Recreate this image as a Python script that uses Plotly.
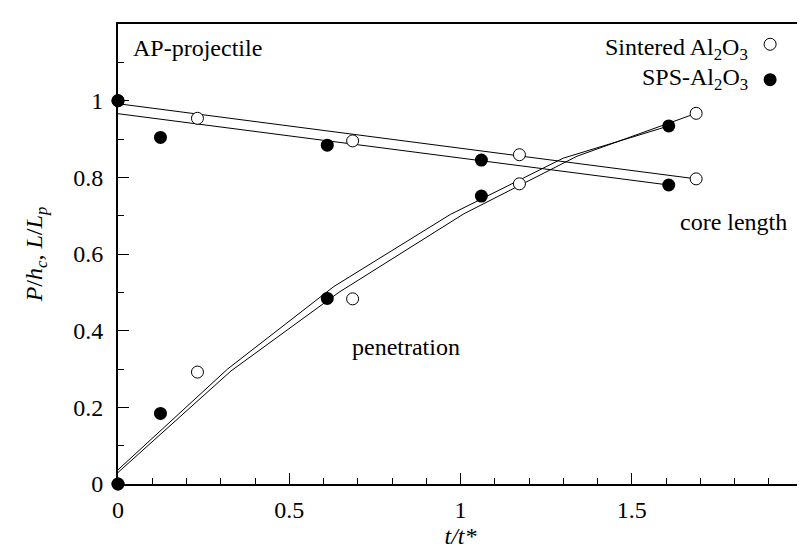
import plotly.graph_objects as go

# ---- data ----
sint_t = [0.0, 0.232, 0.685, 1.172, 1.688]
sint_core = [1.0, 0.954, 0.895, 0.859, 0.796]
sint_pen = [0.0, 0.292, 0.483, 0.783, 0.967]

sps_t = [0.0, 0.124, 0.611, 1.061, 1.608]
sps_core = [1.0, 0.904, 0.884, 0.845, 0.780]
sps_pen = [0.0, 0.184, 0.484, 0.751, 0.934]

# fitted core-length lines
core_fit_sint_t = [0.0, 1.688]
core_fit_sint_y = [0.992, 0.796]
core_fit_sps_t = [0.0, 1.608]
core_fit_sps_y = [0.966, 0.780]

# fitted penetration curves
pen_fit_sps_t = [0.0, 0.32, 0.63, 0.97, 1.30, 1.608]
pen_fit_sps_y = [0.037, 0.300, 0.515, 0.703, 0.850, 0.934]
pen_fit_sint_t = [0.0, 0.33, 0.645, 1.01, 1.34, 1.688]
pen_fit_sint_y = [0.030, 0.295, 0.500, 0.705, 0.855, 0.967]

x_tickvals = [0, 0.5, 1, 1.5, 2]
x_ticktext = ["0", "0.5", "1", "1.5", "2"]
y_tickvals = [0, 0.2, 0.4, 0.6, 0.8, 1.0]
y_ticktext = ["0", "0.2", "0.4", "0.6", "0.8", "1"]

FONT = "Liberation Serif"

fig = go.Figure()
line_style = dict(color="black", width=1)
for tx, ty in [(core_fit_sint_t, core_fit_sint_y), (core_fit_sps_t, core_fit_sps_y),
               (pen_fit_sps_t, pen_fit_sps_y), (pen_fit_sint_t, pen_fit_sint_y)]:
    fig.add_trace(go.Scatter(x=tx, y=ty, mode="lines", line=line_style,
                             showlegend=False, hoverinfo="skip"))

fig.add_trace(go.Scatter(x=sint_t + sint_t, y=sint_core + sint_pen, mode="markers",
                         marker=dict(symbol="circle", size=12, color="white",
                                     line=dict(color="black", width=1)),
                         cliponaxis=False, name="Sintered Al2O3", showlegend=False))
fig.add_trace(go.Scatter(x=sps_t + sps_t, y=sps_core + sps_pen, mode="markers",
                         marker=dict(symbol="circle", size=13, color="black",
                                     line=dict(color="black", width=0)),
                         cliponaxis=False, name="SPS-Al2O3", showlegend=False))

axis_common = dict(showline=True, linecolor="black", linewidth=2, mirror=True,
                   ticks="inside", ticklen=11, tickwidth=1, tickcolor="black",
                   showgrid=False, zeroline=False, layer="below traces",
                   tickfont=dict(family=FONT, size=24, color="black"))

fig.update_xaxes(range=[0, 2], tickvals=x_tickvals, ticktext=x_ticktext,
                 minor=dict(dtick=0.1, tick0=0, ticks="inside", ticklen=6, tickcolor="black", tickwidth=1),
                 ticklabelstandoff=3,
                 title=dict(text="<i>t/t*</i>", font=dict(family=FONT, size=24, color="black"), standoff=0),
                 **axis_common)
fig.update_yaxes(range=[0, 1.2], tickvals=y_tickvals, ticktext=y_ticktext,
                 minor=dict(dtick=0.1, tick0=0, ticks="inside", ticklen=6, tickcolor="black", tickwidth=1),
                 ticklabelstandoff=8,
                 title=dict(text="<i>P</i>/<i>h<sub>c</sub></i>, <i>L</i>/<i>L<sub>p</sub></i>",
                            font=dict(family=FONT, size=24, color="black"), standoff=24),
                 **axis_common)

ann_font = dict(family=FONT, size=24, color="black")
fig.add_annotation(text="AP-projectile", xref="paper", yref="paper", x=0.0188, y=0.948,
                   xanchor="left", yanchor="middle", showarrow=False, font=ann_font)
fig.add_annotation(text="core length", xref="paper", yref="paper", x=0.98, y=0.570,
                   xanchor="right", yanchor="middle", showarrow=False, font=ann_font)
fig.add_annotation(text="penetration", xref="paper", yref="paper", x=0.339, y=0.298,
                   xanchor="left", yanchor="middle", showarrow=False, font=ann_font)
fig.add_annotation(text="Sintered Al<sub>2</sub>O<sub>3</sub>", xref="paper", yref="paper",
                   x=0.923, y=0.945, xanchor="right", yanchor="middle", showarrow=False, font=ann_font)
fig.add_annotation(text="SPS-Al<sub>2</sub>O<sub>3</sub>", xref="paper", yref="paper",
                   x=0.923, y=0.880, xanchor="right", yanchor="middle", showarrow=False, font=ann_font)
# legend symbols
fig.add_shape(type="circle", xref="paper", yref="paper", xsizemode="pixel", ysizemode="pixel",
              xanchor=0.952, yanchor=0.956, x0=-6, x1=6, y0=-6, y1=6,
              line=dict(color="black", width=1), fillcolor="white")
fig.add_shape(type="circle", xref="paper", yref="paper", xsizemode="pixel", ysizemode="pixel",
              xanchor=0.952, yanchor=0.879, x0=-6.5, x1=6.5, y0=-6.5, y1=6.5,
              line=dict(color="black", width=0), fillcolor="black")

fig.update_layout(width=805, height=547, margin=dict(l=110, r=4, t=16, b=71),
                  plot_bgcolor="white", paper_bgcolor="white", showlegend=False)

fig.write_html("out.html")
